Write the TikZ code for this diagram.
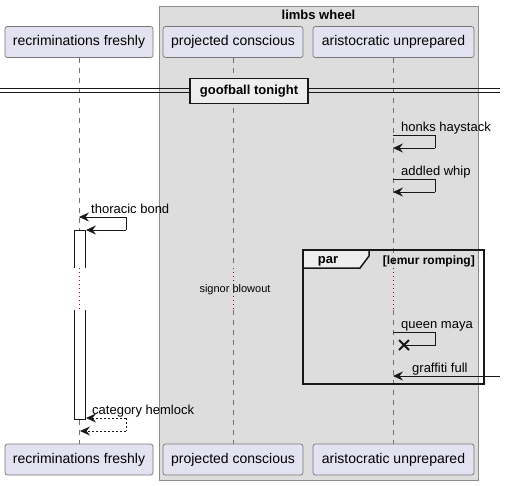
\documentclass[tikz,border=0pt]{standalone}
\usepackage{fontspec}
\setmainfont{Liberation Sans}
\usetikzlibrary{arrows.meta}
\definecolor{partfill}{HTML}{E2E2F0}
\definecolor{partdraw}{HTML}{777777}
\definecolor{boxfill}{HTML}{DDDDDD}
\definecolor{boxdraw}{HTML}{8C8C8C}
\definecolor{ink}{HTML}{181818}
\definecolor{tabfill}{HTML}{EEEEEE}
\definecolor{delayred}{HTML}{A80036}
\definecolor{lifegray}{HTML}{707070}
\tikzset{
  part/.style={draw=partdraw, fill=partfill, rounded corners=2.5pt, minimum height=31pt, inner sep=0pt, font=\fontsize{14}{16}\selectfont, line width=0.7pt, text=black},
  lifeline/.style={draw=lifegray, line width=0.6pt, dash pattern=on 5pt off 5pt},
  delayline/.style={draw=delayred, line width=0.7pt, dash pattern=on 1pt off 3pt},
  msg/.style={draw=ink, line width=0.8pt, -{Stealth[length=10pt,width=9pt,inset=3.5pt]}},
  msgline/.style={draw=ink, line width=0.8pt},
  retmsg/.style={msg, dash pattern=on 2pt off 2pt},
  retline/.style={msgline, dash pattern=on 2pt off 2pt},
  lbl/.style={font=\fontsize{13}{15}\selectfont, inner sep=0pt, anchor=base west, text=black},
  boldlbl/.style={font=\bfseries\fontsize{13}{15}\selectfont, inner sep=0pt, text=black},
  actline/.style={draw=ink, line width=0.8pt}
}
\begin{document}
\begin{tikzpicture}[x=1pt,y=-1pt]
\useasboundingbox (0,0) rectangle (505,485);
% group box
\filldraw[fill=boxfill, draw=boxdraw, line width=0.8pt] (159,6) rectangle (478,480);
\node[boldlbl] (gtitle) at (318.5,15) {limbs wheel};
% participants
\node[part, minimum width=148pt] (rA) at (79,42) {recriminations freshly};
\node[part, minimum width=140pt] (pA) at (233,42) {projected conscious};
\node[part, minimum width=161pt] (aA) at (393.5,42) {aristocratic unprepared};
\node[part, minimum width=148pt] (rB) at (79,459.5) {recriminations freshly};
\node[part, minimum width=140pt] (pB) at (233,459.5) {projected conscious};
\node[part, minimum width=161pt] (aB) at (393.5,459.5) {aristocratic unprepared};
% delay coordinates
\coordinate (rD1) at (79,268); \coordinate (rD2) at (79,310);
\coordinate (pD1) at (233,268); \coordinate (pD2) at (233,310);
\coordinate (aD1) at (393,268); \coordinate (aD2) at (393,310);
% lifelines
\draw[lifeline] (rA.south) -- (rD1);
\draw[delayline] (rD1) -- (rD2);
\draw[lifeline] (rD2) -- (rB.north);
\draw[lifeline] (pA.south) -- (pD1);
\draw[delayline] (pD1) -- (pD2);
\draw[lifeline] (pD2) -- (pB.north);
\draw[lifeline] (aA.south -| aD1) -- (aD1);
\draw[delayline] (aD1) -- (aD2);
\draw[lifeline] (aD2) -- (aB.north -| aD2);
\node[font=\fontsize{11}{13}\selectfont, inner sep=0pt, text=black] (delay) at (235,290) {signor blowout};
% divider
\coordinate (dvL1) at (0,88); \coordinate (dvR1) at (500,88);
\coordinate (dvL2) at (0,92); \coordinate (dvR2) at (500,92);
\draw[ink, line width=0.8pt] (dvL1) -- (dvR1);
\draw[ink, line width=0.8pt] (dvL2) -- (dvR2);
\node[draw=ink, fill=tabfill, line width=1.5pt, minimum width=118pt, minimum height=25pt, inner sep=0pt, font=\bfseries\fontsize{13}{15}\selectfont] (divider) at (249,91) {goofball tonight};
% activation
\fill[white] (74,230) rectangle (85,268);
\draw[actline] (74,268) -- (74,230) -- (85,230) -- (85,268);
\fill[white] (74,310) rectangle (85,419);
\draw[actline] (74,310) -- (74,419) -- (85,419) -- (85,310);
% honks haystack
\coordinate (h1) at (393,135); \coordinate (h2) at (435,135);
\coordinate (h3) at (435,148); \coordinate (h4) at (393,148);
\draw[msgline] (h1) -- (h2) -- (h3);
\draw[msg] (h3) -- (h4);
\node[lbl] (lh) at (401,131) {honks haystack};
% addled whip
\coordinate (w1) at (393,179); \coordinate (w2) at (435,179);
\coordinate (w3) at (435,192); \coordinate (w4) at (393,192);
\draw[msgline] (w1) -- (w2) -- (w3);
\draw[msg] (w3) -- (w4);
\node[lbl] (lw) at (401,175) {addled whip};
% thoracic bond
\coordinate (t1) at (79,217); \coordinate (t2) at (126,217);
\coordinate (t3) at (126,230); \coordinate (t4) at (86,230);
\draw[msg] (t2) -- (t1);
\draw[msgline] (t2) -- (t3);
\draw[msg] (t3) -- (t4);
\node[lbl] (lt) at (91,213) {thoracic bond};
% par frame
\draw[ink, line width=1.5pt] (303,250) rectangle (484,384);
\filldraw[fill=tabfill, draw=ink, line width=1.5pt] (303,250) -- (369,250) -- (369,256) -- (360,268) -- (303,268) -- cycle;
\node[boldlbl] (partab) at (328,261) {par};
\node[font=\bfseries\fontsize{12}{14}\selectfont, inner sep=0pt, anchor=east, text=black] (parcond) at (475,261) {[lemur romping]};
% queen maya
\coordinate (q1) at (393,332); \coordinate (q2) at (435,332);
\coordinate (q3) at (435,345); \coordinate (q4) at (404,345);
\draw[msgline] (q1) -- (q2) -- (q3) -- (q4);
\draw[ink, line width=2pt] ([shift={(-5,-5)}]q4) -- ([shift={(5,5)}]q4);
\draw[ink, line width=2pt] ([shift={(-5,5)}]q4) -- ([shift={(5,-5)}]q4);
\node[lbl] (lq) at (401,328) {queen maya};
% graffiti full
\coordinate (g1) at (500,376); \coordinate (g2) at (393,376);
\draw[msg] (g1) -- (g2);
\node[lbl] (lg) at (412,372) {graffiti full};
% category hemlock
\coordinate (c1) at (86,418); \coordinate (c2) at (126,418);
\coordinate (c3) at (126,431); \coordinate (c4) at (80,431);
\draw[retmsg] (c2) -- (c1);
\draw[retline] (c2) -- (c3);
\draw[retmsg] (c3) -- (c4);
\node[lbl] (lc) at (92,414) {category hemlock};
\end{tikzpicture}
\end{document}
